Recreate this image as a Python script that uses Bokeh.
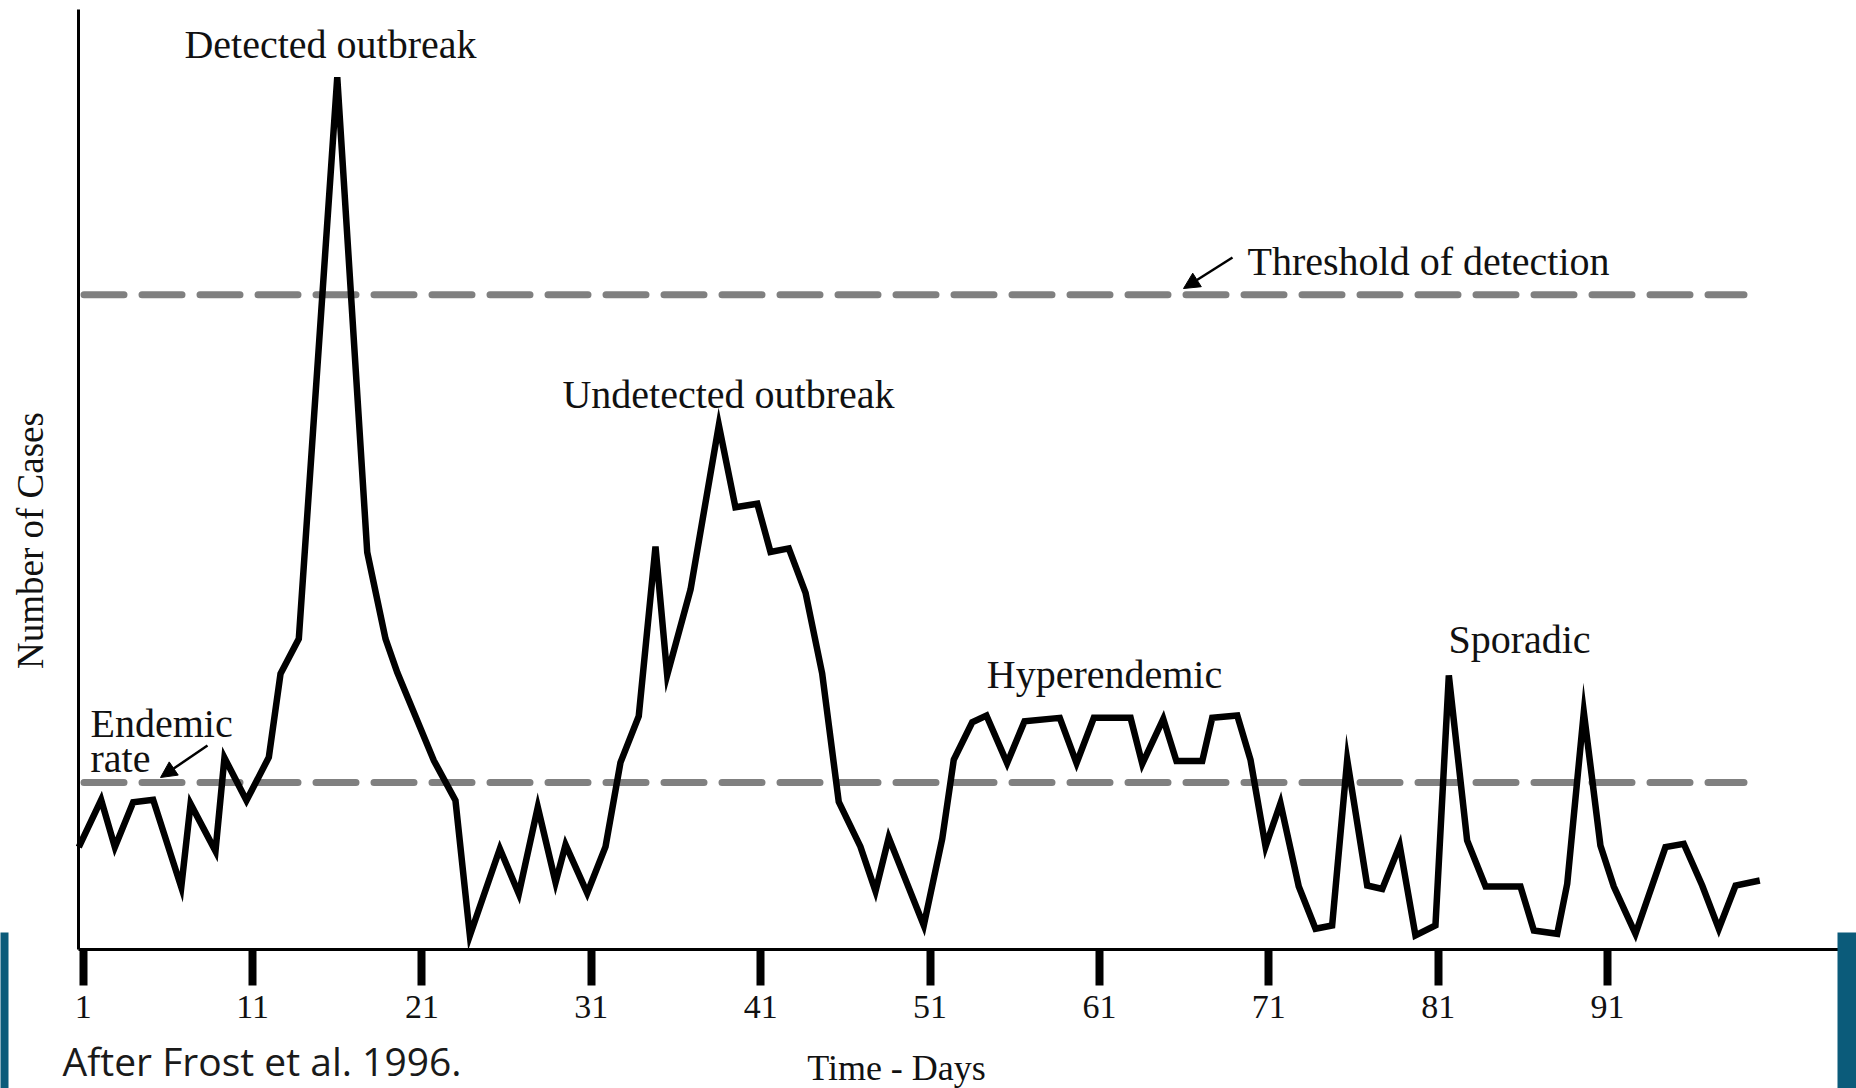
from math import pi
from bokeh.plotting import figure
from bokeh.models import Range1d, LinearAxis, FixedTicker, Label, Arrow, NormalHead
from bokeh.embed import file_html
from bokeh.resources import INLINE

# ---------------- data ----------------
days = [0.74, 2.06, 2.87, 3.95, 5.13, 6.79, 7.34, 8.81, 9.34, 10.64,
        11.96, 12.65, 13.73, 16.00, 17.77, 18.85, 19.54, 21.70, 22.98, 23.83,
        25.60, 26.72, 27.84, 28.89, 29.48, 30.76, 31.84, 32.72, 33.80, 34.79,
        35.48, 36.86, 38.53, 39.51, 40.80, 41.58, 42.66, 43.65, 44.63, 45.61,
        46.89, 47.78, 48.56, 50.63, 51.72, 52.40, 53.49, 54.33, 55.55, 56.58,
        58.66, 59.65, 60.67, 62.84, 63.53, 64.77, 65.55, 67.07, 67.66, 69.14,
        69.92, 70.81, 71.69, 72.77, 73.76, 74.74, 75.63, 76.81, 77.70, 78.73,
        79.66, 80.84, 81.63, 82.71, 83.80, 85.86, 86.65, 88.03, 88.62, 89.60,
        90.58, 91.37, 92.65, 94.42, 95.50, 96.59, 97.57, 98.56, 99.99]
cases = [6.13, 8.96, 6.13, 8.82, 8.96, 3.73, 8.72, 5.89, 11.48, 8.92,
         11.51, 16.51, 18.60, 52.23, 23.79, 18.60, 16.60, 11.32, 8.92, 0.84,
         6.03, 3.34, 8.52, 4.02, 6.27, 3.38, 6.16, 11.19, 13.97, 24.13,
         16.43, 21.56, 31.40, 26.48, 26.69, 23.81, 24.02, 21.35, 16.53, 8.84,
         6.16, 3.49, 6.70, 1.44, 6.63, 11.36, 13.61, 14.01, 11.16, 13.67,
         13.87, 11.16, 13.87, 13.87, 11.12, 13.81, 11.28, 11.28, 13.87, 14.01,
         11.36, 6.17, 8.76, 3.77, 1.24, 1.44, 11.36, 3.83, 3.63, 6.23,
         0.84, 1.44, 16.41, 6.53, 3.77, 3.77, 1.14, 0.94, 3.93, 14.21,
         6.23, 3.77, 0.94, 6.13, 6.33, 3.83, 1.24, 3.83, 4.13]
endemic_rate = 10.0
detection_threshold = 39.2
tick_days = [1, 11, 21, 31, 41, 51, 61, 71, 81, 91]
tick_labels = ["1", "11", "21", "31", "41", "51", "61", "71", "81", "91"]

# ---------------- layout helpers (pixel -> data) ----------------
W, H = 1856, 1088
PX_PER_DAY = 16.937
PX_PER_CASE = 16.7
X0_PX = 82.7   # pixel column of day 1
Y0_PX = 949.0  # pixel row of zero cases


def dx(px):
    return 1 + (px - X0_PX) / PX_PER_DAY


def dy(py):
    return (Y0_PX - py) / PX_PER_CASE


SERIF = "Liberation Serif"
INK = "#111111"

p = figure(width=W, height=H,
           x_range=Range1d(dx(0), dx(W)), y_range=Range1d(dy(H), dy(0)),
           output_backend="svg", toolbar_location=None,
           x_axis_location=None, y_axis_location=None,
           min_border=0, outline_line_color=None,
           background_fill_color="white", border_fill_color="white")
p.grid.visible = False

# reference lines
for level in (endemic_rate, detection_threshold):
    p.line([dx(83.5), dx(1743.5)], [level, level], line_color="#808080",
           line_width=7, line_dash="40 18", line_cap="round")

# case curve
p.line(days, cases, line_color="black", line_width=6.5, line_join="miter")

# axes
xaxis = LinearAxis(fixed_location=0, ticker=FixedTicker(ticks=tick_days),
                   major_label_overrides={d: l for d, l in zip(tick_days, tick_labels)},
                   bounds=(dx(78), dx(W)), axis_line_width=3, axis_line_color="black",
                   major_tick_out=36, major_tick_in=0, major_tick_line_width=8,
                   major_tick_line_color="black",
                   minor_tick_out=0, minor_tick_in=0,
                   major_label_text_font=SERIF, major_label_text_font_size="34px",
                   major_label_text_color=INK, major_label_standoff=10)
p.add_layout(xaxis, "below")

yaxis = LinearAxis(fixed_location=dx(78), ticker=FixedTicker(ticks=[]),
                   bounds=(0, dy(9)), axis_line_width=3, axis_line_color="black",
                   major_tick_out=0, major_tick_in=0, minor_tick_out=0, minor_tick_in=0,
                   major_label_text_font_size="0px")
p.add_layout(yaxis, "left")


def lab(text, px, py, size, align="center", font=SERIF, rotated=False, color=INK, style="normal"):
    # px, py: wanted baseline anchor in picture pixels; Bokeh draws the
    # alphabetic baseline about 0.35 em lower, so compensate for it.
    shift = 0.35 * size
    if rotated:
        px -= shift
    else:
        py -= shift
    p.add_layout(Label(x=dx(px), y=dy(py), text=text, text_font=font,
                       text_font_size=f"{size}px", text_align=align,
                       text_baseline="alphabetic", text_color=color,
                       angle=pi / 2 if rotated else 0.0, text_font_style=style))


lab("Detected outbreak", 330, 58, 40)
lab("Threshold of detection", 1428, 275, 40)
lab("Undetected outbreak", 728, 408, 40)
lab("Hyperendemic", 1104, 688, 40)
lab("Sporadic", 1519, 653, 40)
lab("Endemic", 90, 737, 40, align="left")
lab("rate", 90, 772, 40, align="left")
lab("Number of Cases", 43, 540, 37, rotated=True)
lab("Time - Days", 896, 1080, 36)
lab("After Frost  et al. 1996.", 62, 1074, 39, align="left", font="Open Sans", color="#1a1a1a")

# arrows
for (x0, y0, x1, y1) in [(1232, 257, 1183, 288), (207, 745, 160, 777)]:
    p.add_layout(Arrow(end=NormalHead(size=16, fill_color="black", line_color="black"),
                       x_start=dx(x0), y_start=dy(y0), x_end=dx(x1), y_end=dy(y1),
                       line_width=2.5, line_color="black"))

# slide background fragments at the edges
for (l, r) in [(0, 8), (1837, W)]:
    p.quad(left=dx(l), right=dx(r), bottom=dy(H), top=dy(932),
           fill_color="#0b5b7a", line_color=None, level="overlay")
lab("au", 1836, 1062, 13, align="left", font="DejaVu Sans", color="white", style="bold")

open("out.html", "w").write(file_html(p, INLINE))
